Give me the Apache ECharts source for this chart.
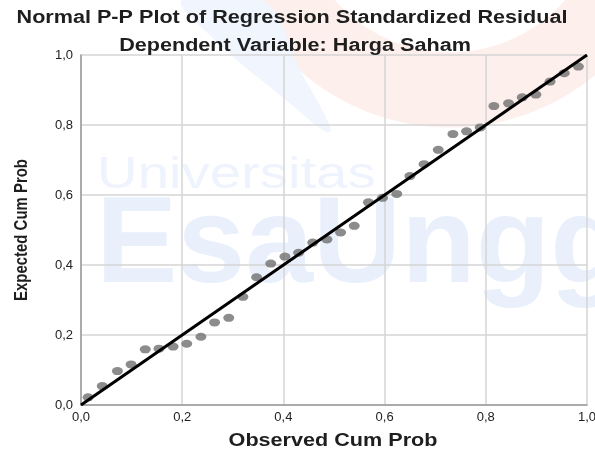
<!DOCTYPE html>
<html>
<head>
<meta charset="utf-8">
<script src="https://cdn.jsdelivr.net/npm/echarts@6/dist/echarts.min.js"></script>
<style>
  html, body { margin: 0; padding: 0; background: #fff; }
  #chart { width: 595px; height: 453px; }
</style>
</head>
<body>
<div id="chart"></div>
<script>
// titles and axis names
var titleLines = ['Normal P-P Plot of Regression Standardized Residual', 'Dependent Variable: Harga Saham'];
var xName = 'Observed Cum Prob';
var yName = 'Expected Cum Prob';

// observed / expected cumulative probabilities
var observed = [0.014, 0.042, 0.072, 0.099, 0.127, 0.154, 0.182, 0.209, 0.237, 0.264,
  0.292, 0.320, 0.347, 0.375, 0.403, 0.430, 0.458, 0.486, 0.513, 0.540,
  0.568, 0.596, 0.624, 0.650, 0.678, 0.706, 0.735, 0.762, 0.789, 0.816,
  0.845, 0.872, 0.899, 0.927, 0.955, 0.983];
var expected = [0.022, 0.054, 0.097, 0.116, 0.159, 0.161, 0.167, 0.175, 0.195, 0.236,
  0.249, 0.309, 0.365, 0.404, 0.424, 0.435, 0.464, 0.473, 0.493, 0.512,
  0.579, 0.592, 0.603, 0.654, 0.688, 0.729, 0.774, 0.782, 0.793, 0.854,
  0.862, 0.879, 0.887, 0.924, 0.948, 0.967];
// diagonal reference line
var refLine = [[0, 0], [1, 1]];

var pts = observed.map(function (x, i) { return [x, expected[i]]; });

var chart = echarts.init(document.getElementById('chart'));
var fmt = function (v) { return v.toFixed(1).replace('.', ','); };
var txtFont = '"Liberation Sans", Arial, sans-serif';

// the source picture is stretched sideways, so text gets a scaleX
function label(text, x, y, size, sx, rot) {
  return {
    type: 'text', x: x, y: y, rotation: rot || 0, scaleX: sx, silent: true, z: 10,
    style: {
      text: text, font: 'bold ' + size + 'px ' + txtFont, fill: '#1e1e1e',
      align: 'center', verticalAlign: 'middle'
    }
  };
}

var option = {
  backgroundColor: '#ffffff',
  animation: false,
  graphic: [
    // faint logo watermark behind the plot
    { type: 'circle', z: -10, silent: true, shape: { cx: 450, cy: -100, r: 190 },
      style: { fill: 'none', stroke: '#fdf0ec', lineWidth: 75 } },
    { type: 'polygon', z: -9, silent: true,
      shape: { points: [[182, 0], [262, 0], [300, 70], [330, 132], [280, 95], [215, 40]], smooth: 0.4 },
      style: { fill: '#f1f5fd' } },
    { type: 'text', z: -8, silent: true, x: 97, y: 154, scaleX: 1.28,
      style: { text: 'Universitas', font: '44px ' + txtFont, fill: '#eef3fd' } },
    { type: 'text', z: -8, silent: true, x: 96, y: 187,
      style: { text: 'EsaUngg', font: 'bold 122px ' + txtFont, fill: '#e9f0fc' } },
    label(titleLines[0], 292, 18, 18, 1.2),
    label(titleLines[1], 295, 46, 18, 1.2),
    label(xName, 333, 441, 18, 1.2),
    label(yName, 22, 230, 18, 0.83, Math.PI / 2)
  ],
  grid: { left: 81, right: 8, top: 55, bottom: 48, show: false, outerBoundsMode: 'none' },
  xAxis: {
    type: 'value', min: 0, max: 1, interval: 0.2,
    axisLine: { lineStyle: { color: '#9a9a9a', width: 1.5 } },
    axisTick: { show: false },
    axisLabel: { formatter: fmt, color: '#222', fontFamily: txtFont, fontSize: 13, margin: 6 },
    splitLine: { lineStyle: { color: '#d4d4d4', width: 1.5 } }
  },
  yAxis: {
    type: 'value', min: 0, max: 1, interval: 0.2,
    axisLine: { show: true, lineStyle: { color: '#9a9a9a', width: 1.5 } },
    axisTick: { show: false },
    axisLabel: { formatter: fmt, color: '#222', fontFamily: txtFont, fontSize: 13, margin: 8 },
    splitLine: { lineStyle: { color: '#d4d4d4', width: 1.5 } }
  },
  series: [{
    type: 'scatter',
    data: pts,
    symbol: 'circle',
    symbolSize: [11, 8],
    itemStyle: { color: '#6f6f6f' },
    z: 2
  }, {
    type: 'line',
    data: refLine,
    symbol: 'none',
    lineStyle: { color: '#000', width: 3 },
    z: 3
  }]
};
chart.setOption(option);
</script>
</body>
</html>
